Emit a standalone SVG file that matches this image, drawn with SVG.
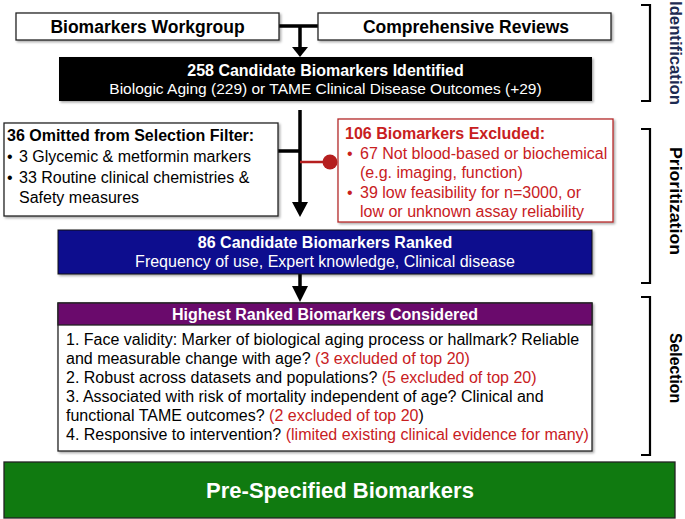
<svg xmlns="http://www.w3.org/2000/svg" width="685" height="519" viewBox="0 0 685 519">
<defs>
<filter id="sh" x="-5%" y="-10%" width="110%" height="130%">
<feDropShadow dx="1.5" dy="1.5" stdDeviation="1" flood-color="#000" flood-opacity="0.35"/>
</filter>
</defs>
<style>
text{font-family:"Liberation Sans",Arial,Helvetica,sans-serif;font-size:16px;fill:#000}
.b{font-weight:bold}
.w{fill:#fff}
.r{fill:#c8201e}
.c{text-anchor:middle}
.big{font-size:17.5px}
.box{stroke:#222;stroke-width:1.3}
.ln{stroke:#000;stroke-width:3.5;fill:none}
.br{stroke:#000;stroke-width:2.2;fill:none}
.side{font-weight:bold;text-anchor:middle}
</style>
<rect width="685" height="519" fill="#fff"/>

<g id="connectors">
<path class="ln" d="M279 26H318M300 26V49"/>
<polygon points="292,47 308,47 300,57"/>
<path class="ln" d="M300 110V204M278 151H300"/>
<polygon points="292,202 308,202 300,217"/>
<path d="M300 162H330" stroke="#b51f1f" stroke-width="2.5"/>
<circle cx="330" cy="162" r="7.5" fill="#b51f1f"/>
<path class="ln" d="M300 274V288"/>
<polygon points="292,286 308,286 300,302"/>
</g>

<g id="workgroup">
<rect class="box" x="16" y="13" width="263" height="27" fill="#fff" filter="url(#sh)"/>
<text class="b c big" x="147.5" y="33">Biomarkers Workgroup</text>
</g>

<g id="reviews">
<rect class="box" x="318" y="13" width="293" height="27" fill="#fff" filter="url(#sh)"/>
<text class="b c big" x="466" y="33">Comprehensive Reviews</text>
</g>

<g id="identified">
<rect x="59" y="57" width="533" height="44" fill="#000" filter="url(#sh)"/>
<text class="b c w" x="325.5" y="76">258 Candidate Biomarkers Identified</text>
<text class="c w" x="325.5" y="94" style="font-size:15.5px">Biologic Aging (229) or TAME Clinical Disease Outcomes (+29)</text>
</g>

<g id="omitted">
<rect class="box" x="4" y="123" width="274" height="93" fill="#fff" filter="url(#sh)"/>
<text class="b" x="7" y="141">36 Omitted from Selection Filter:</text>
<text x="7" y="162">•</text><text x="19" y="162">3 Glycemic &amp; metformin markers</text>
<text x="7" y="183">•</text><text x="19" y="183">33 Routine clinical chemistries &amp;</text>
<text x="19" y="203">Safety measures</text>
</g>

<g id="excluded">
<rect x="338" y="119" width="275" height="103" fill="#fff" stroke="#b52a2a" stroke-width="1.3" filter="url(#sh)"/>
<text class="b r" x="345" y="139">106 Biomarkers Excluded:</text>
<text class="r" x="347" y="158.5">•</text><text class="r" x="360" y="158.5">67 Not blood-based or biochemical</text>
<text class="r" x="360" y="178">(e.g. imaging, function)</text>
<text class="r" x="347" y="197.5">•</text><text class="r" x="360" y="197.5">39 low feasibility for n=3000, or</text>
<text class="r" x="360" y="217">low or unknown assay reliability</text>
</g>

<g id="ranked">
<rect x="58" y="230" width="534" height="44" fill="#0a0a8e" stroke="#111" stroke-width="1" filter="url(#sh)"/>
<text class="b c w" x="325" y="248">86 Candidate Biomarkers Ranked</text>
<text class="c w" x="325" y="267">Frequency of use, Expert knowledge, Clinical disease</text>
</g>

<g id="considered">
<rect class="box" x="58" y="303" width="534" height="148" fill="#fff" filter="url(#sh)"/>
<rect x="58" y="303" width="534" height="22" fill="#6a0a6c" stroke="#222" stroke-width="1.3"/>
<text class="b c w" x="325" y="320">Highest Ranked Biomarkers Considered</text>
<text x="66" y="345">1. Face validity: Marker of biological aging process or hallmark? Reliable</text>
<text x="66" y="364">and measurable change with age? <tspan class="r">(3 excluded of top 20)</tspan></text>
<text x="66" y="383">2. Robust across datasets and populations? <tspan class="r">(5 excluded of top 20)</tspan></text>
<text x="66" y="402">3. Associated with risk of mortality independent of age? Clinical and</text>
<text x="66" y="421">functional TAME outcomes? <tspan class="r">(2 excluded of top 20</tspan>)</text>
<text x="66" y="440">4. Responsive to intervention? <tspan class="r">(limited existing clinical evidence for many)</tspan></text>
</g>

<g id="prespecified">
<rect x="4" y="462" width="671" height="56" fill="#107a10" stroke="#222" stroke-width="1.3"/>
<text class="b c w" x="340" y="498" style="font-size:22px">Pre-Specified Biomarkers</text>
</g>

<g id="stages">
<path class="br" d="M641 5H650V101H641"/>
<path class="br" d="M641 129H650V283H641"/>
<path class="br" d="M641 297H650V455H641"/>
<text class="side" transform="translate(670,53) rotate(90)" textLength="104" lengthAdjust="spacingAndGlyphs" style="fill:#1d2b52">Identification</text>
<text class="side" transform="translate(670,201) rotate(90)" textLength="108" lengthAdjust="spacingAndGlyphs">Prioritization</text>
<text class="side" transform="translate(670,368) rotate(90)" textLength="70" lengthAdjust="spacingAndGlyphs">Selection</text>
</g>
</svg>
